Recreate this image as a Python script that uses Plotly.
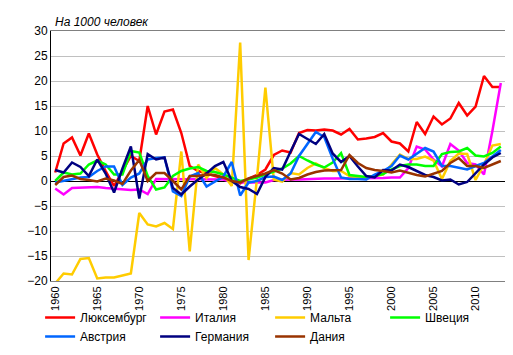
import plotly.graph_objects as go

years = list(range(1960, 2014))

luxembourg = [1.7, 7.5, 8.7, 5.1, 9.5, 5.3, 2.0, -1.0, 2.0, 5.0,
              4.0, 15.0, 9.3, 13.9, 14.3, 9.6, 3.0, 2.0, 1.5, 1.0,
              0.5, 0.0, -0.5, 0.5, 1.2, 2.3, 5.2, 6.1, 5.7, 9.6,
              10.2, 10.1, 10.3, 10.1, 9.3, 10.4, 8.3, 8.5, 8.8, 9.6,
              7.9, 7.5, 5.9, 11.8, 9.4, 12.9, 11.3, 12.5, 15.6, 13.1,
              14.9, 21.0, 18.8, 18.8]
italy = [-1.5, -2.7, -1.4, -1.3, -1.2, -1.2, -1.4, -1.5, -1.7, -1.8,
         -1.7, -2.6, 0.4, 0.4, 0.4, 0.4, 0.4, 0.4, 0.4, 0.4,
         0.3, -0.2, -0.3, -0.3, -0.3, -0.3, 0.2, 0.3, 0.3, 0.3,
         0.4, 0.5, 0.5, 0.5, 0.5, 0.5, 0.5, 0.6, 0.6, 0.6,
         0.7, 0.7, 2.6, 6.9, 6.3, 4.3, 2.9, 7.4, 6.1, 3.6,
         3.3, 1.3, 10.0, 19.6]
malta = [-20.5, -18.5, -18.7, -15.6, -15.4, -19.5, -19.3, -19.3, -18.9, -18.5,
         -6.4, -8.7, -9.1, -8.4, -9.6, 5.9, -14.1, 3.3, 0.6, 2.6,
         1.3, -1.0, 27.7, -15.8, 0.6, 18.7, 0.3, -0.1, 1.6, 1.3,
         2.6, 3.5, 2.6, 2.0, 2.0, 1.0, 0.7, 0.7, 1.0, 1.3,
         3.3, 5.3, 4.4, 4.4, 4.9, 4.1, 0.4, 4.0, 5.5, 5.4,
         0.2, 3.3, 7.1, 7.4]
sweden = [0.0, 1.7, 1.3, 1.5, 3.3, 4.1, 3.3, 1.3, 1.3, 6.0,
          5.7, 1.0, -1.7, -1.3, 1.0, 2.0, 2.5, 2.8, 2.0, 1.8,
          1.3, 0.7, 0.0, 0.3, 0.7, 1.3, 1.9, 2.5, 3.5, 5.0,
          4.1, 3.3, 2.7, 3.7, 5.6, 1.2, 1.0, 0.8, 1.0, 1.4,
          2.3, 3.0, 3.3, 3.3, 3.0, 3.0, 5.4, 5.8, 5.9, 6.6,
          5.1, 4.9, 5.6, 6.9]
austria = [-0.3, 0.0, 0.4, 0.7, 0.8, 2.0, 2.9, 2.9, -0.8, 0.7,
           1.5, 4.3, 4.6, 4.7, -2.1, -3.0, 0.9, 1.6, -1.1, -0.1,
           0.9, 3.8, -2.9, -0.3, 0.0, 0.8, 0.9, 0.2, 1.5, 5.0,
           7.5, 9.8, 8.8, 4.5, 0.7, 0.4, 0.4, 0.3, 1.3, 2.0,
           3.0, 5.1, 4.3, 5.4, 6.6, 5.9, 3.0, 3.0, 2.6, 2.3,
           3.0, 3.6, 4.9, 6.2]
germany = [2.2, 1.7, 3.7, 2.8, 1.0, 4.3, 1.5, -2.3, 2.5, 6.9,
           -3.5, 5.4, 4.3, 4.7, -1.4, -2.7, -1.1, 0.3, 1.5, 3.0,
           3.8, 0.0, -1.2, -1.6, -2.6, 0.8, 2.6, 2.3, 5.9, 9.4,
           8.4, 7.4, 9.4, 5.5, 3.8, 5.0, 2.9, 1.0, 0.7, 2.2,
           2.1, 3.3, 2.8, 2.0, 1.2, 0.8, 0.1, 0.3, -0.7, -0.2,
           1.6, 3.3, 4.7, 5.6]
denmark = [-0.8, 0.8, 1.1, 0.4, 0.2, -0.1, 0.5, 0.1, -0.6, 2.1,
           4.2, 0.0, 1.6, 1.6, 0.0, -1.7, 1.0, 1.0, 1.3, 1.2,
           0.7, 0.0, -0.3, 0.5, 1.0, 1.5, 2.2, 1.5, 0.3, 0.6,
           1.3, 1.8, 2.1, 2.2, 2.2, 5.2, 3.6, 2.6, 2.2, 2.0,
           1.7, 2.1, 1.6, 1.2, 0.9, 1.4, 2.0, 3.6, 4.6, 3.0,
           3.0, 2.6, 3.3, 4.0]

series = [
    ("Люксембург", luxembourg, "#FF0000"),
    ("Италия", italy, "#FF00FF"),
    ("Мальта", malta, "#FFCC00"),
    ("Швеция", sweden, "#00FF00"),
    ("Австрия", austria, "#0066FF"),
    ("Германия", germany, "#000080"),
    ("Дания", denmark, "#993300"),
]

y_ticks = list(range(-20, 31, 5))
x_ticks = list(range(1960, 2011, 5))

fig = go.Figure()
for name, vals, color in series:
    fig.add_trace(go.Scatter(x=years, y=vals, name=name, mode="lines",
                             line=dict(color=color, width=2.5)))

font = "Liberation Sans, Arial, sans-serif"
fig.update_layout(
    width=513, height=355,
    margin=dict(l=43, r=16, t=23, b=82, autoexpand=False),
    paper_bgcolor="white", plot_bgcolor="white",
    font=dict(family=font, size=12, color="black"),
    showlegend=True,
    legend=dict(orientation="h",
                x=-0.024, xanchor="left", y=-0.088, yanchor="top",
                entrywidth=70, entrywidthmode="pixels",
                font=dict(family=font, size=12, color="black"),
                tracegroupgap=0, itemwidth=30,
                bgcolor="rgba(0,0,0,0)"),
    xaxis=dict(range=[1959.5, 2013.5], tickmode="array", tickvals=x_ticks,
               ticktext=[str(t) for t in x_ticks], tickangle=-90,
               showgrid=False, zeroline=False, showline=True,
               linecolor="#808080", linewidth=1, mirror=True,
               ticks="", automargin=False, tickfont=dict(size=11, family=font)),
    yaxis=dict(range=[-20, 30], tickmode="array", tickvals=y_ticks,
               showgrid=True, gridcolor="#C0C0C0", gridwidth=1,
               zeroline=True, zerolinecolor="black", zerolinewidth=1,
               showline=True, linecolor="black", linewidth=1,
               ticks="", automargin=False, tickfont=dict(size=12, family=font)),
    annotations=[dict(text="<i>На 1000 человек</i>", xref="paper", yref="paper",
                      x=0.005, y=1.0, xanchor="left", yanchor="bottom",
                      showarrow=False, font=dict(size=12, family=font))],
)

fig.write_html("out.html")
